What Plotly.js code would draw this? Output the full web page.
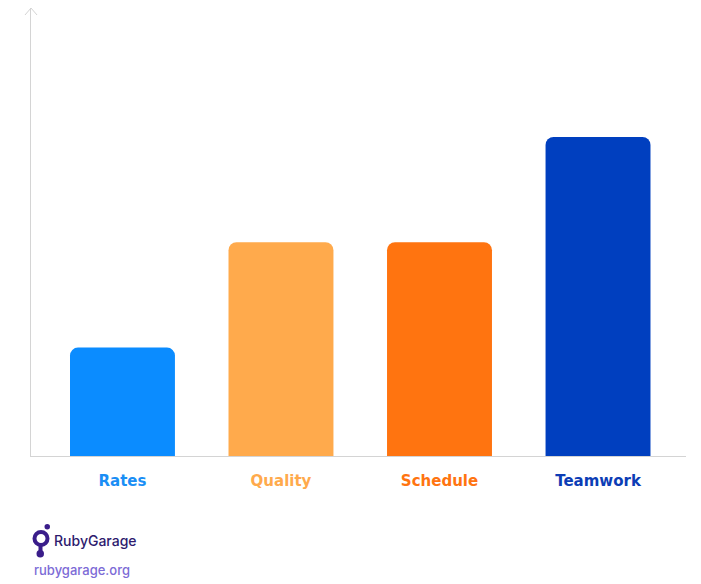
<!DOCTYPE html>
<html>
<head>
<meta charset="utf-8">
<script src="https://cdn.plot.ly/plotly-3.0.1.min.js"></script>
<style>html,body{margin:0;padding:0;background:#fff;}#chart{width:701px;height:584px;}</style>
</head>
<body>
<div id="chart"></div>
<script>
var categories = ["Rates", "Quality", "Schedule", "Teamwork"];
var values = [1.02, 2.01, 2.01, 3];
var barColors = ["#0B8CFF", "#FFAA4C", "#FF7410", "#003FBF"];
var labelColors = ["#1A8EF5", "#FFAA4C", "#FF7410", "#0C3DB5"];

var tickText = categories.map(function (c, i) {
  return '<span style="color:' + labelColors[i] + '"><b>' + c + '</b></span>';
});

var W = 655, H = 448;
function px(x) { return (x - 31) / W; }
function py(y) { return (456 - y) / H; }

var trace = {
  type: "bar",
  x: categories,
  y: values,
  marker: { color: barColors, line: { width: 0 } },
  width: 0.662,
  hoverinfo: "skip"
};

var layout = {
  width: 701,
  height: 584,
  margin: { l: 31, r: 15, t: 8, b: 128 },
  paper_bgcolor: "#ffffff",
  plot_bgcolor: "#ffffff",
  showlegend: false,
  barcornerradius: 8,
  font: { family: "Inter, 'Open Sans', sans-serif" },
  xaxis: {
    type: "category",
    range: [-0.577, 3.555],
    showline: true,
    linecolor: "#d4d4d4",
    linewidth: 1,
    showgrid: false,
    zeroline: false,
    ticks: "",
    tickmode: "array",
    tickvals: categories,
    ticktext: tickText,
    tickfont: { size: 15, family: "'DejaVu Sans', sans-serif" },
    ticklabelstandoff: 11,
    fixedrange: true
  },
  yaxis: {
    range: [0, 4.213],
    showline: true,
    linecolor: "#d4d4d4",
    linewidth: 1,
    showgrid: false,
    zeroline: false,
    showticklabels: false,
    ticks: "",
    fixedrange: true
  },
  shapes: [
    {
      type: "path", xref: "paper", yref: "paper",
      path: "M " + px(25) + " " + py(15) + " L " + px(31) + " " + py(8) + " L " + px(37) + " " + py(15),
      line: { color: "#d4d4d4", width: 1 }
    },
    {
      type: "circle", xref: "paper", yref: "paper",
      x0: px(34.5), x1: px(47.5), y0: py(545), y1: py(532),
      line: { color: "#3A1D8A", width: 4 }, fillcolor: "rgba(0,0,0,0)"
    },
    {
      type: "circle", xref: "paper", yref: "paper",
      x0: px(44.5), x1: px(50), y0: py(529.5), y1: py(524),
      line: { width: 0 }, fillcolor: "#3A1D8A"
    },
    {
      type: "path", xref: "paper", yref: "paper",
      path: "M " + px(40.5) + " " + py(546) + " L " + px(40.5) + " " + py(553),
      line: { color: "#3A1D8A", width: 4 }
    },
    {
      type: "circle", xref: "paper", yref: "paper",
      x0: px(36.5), x1: px(44), y0: py(557.5), y1: py(550),
      line: { width: 0 }, fillcolor: "#3A1D8A"
    }
  ],
  annotations: [
    {
      xref: "paper", yref: "paper",
      x: px(52), y: py(540), xanchor: "left", yanchor: "middle",
      text: "RubyGarage", showarrow: false,
      font: { size: 14, color: "#2E1A6E", family: "Inter, 'Open Sans', sans-serif", weight: 500 }
    },
    {
      xref: "paper", yref: "paper",
      x: px(32), y: py(570), xanchor: "left", yanchor: "middle",
      text: "rubygarage.org", showarrow: false,
      font: { size: 13, color: "#7C6BD6", family: "Inter, 'Open Sans', sans-serif", weight: 500 }
    }
  ]
};

Plotly.newPlot("chart", [trace], layout, { displayModeBar: false, staticPlot: true });
</script>
</body>
</html>
